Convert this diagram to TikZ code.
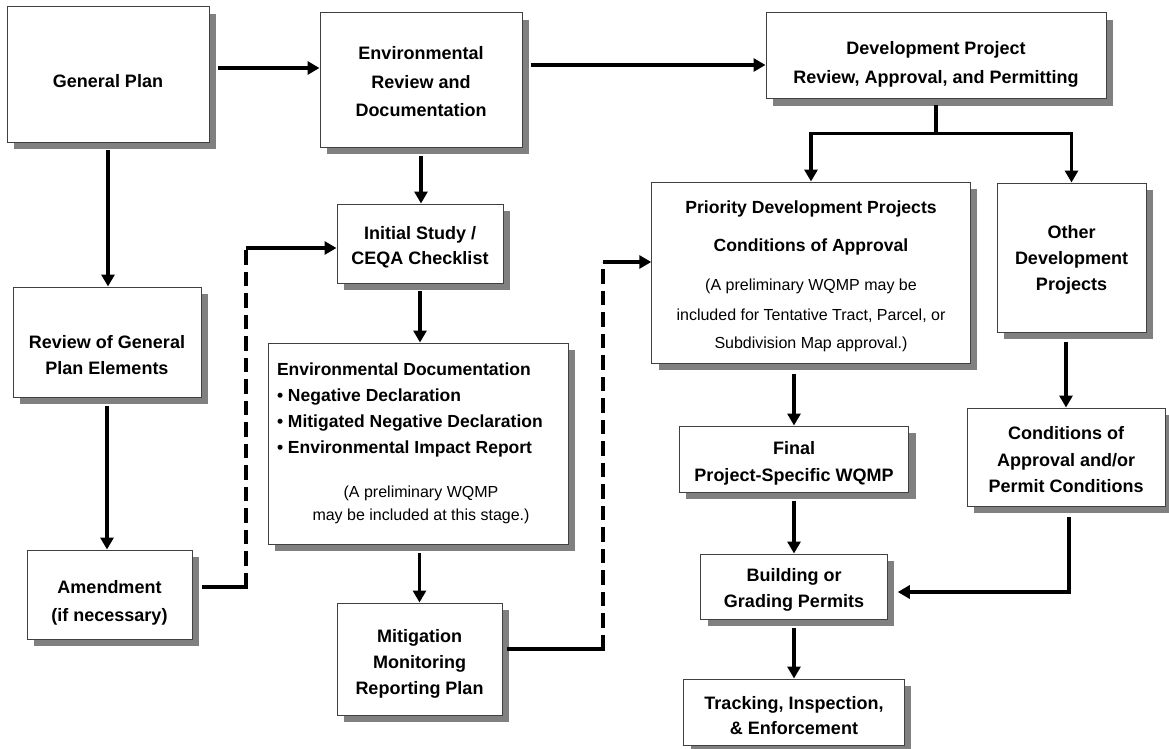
\documentclass[tikz,border=0pt]{standalone}
\usepackage{fontspec}
\setmainfont{Liberation Sans}
\usetikzlibrary{arrows.meta,shadows,calc}
\definecolor{shadowgray}{HTML}{808080}
\definecolor{boxline}{HTML}{404040}
\newcommand{\dn}[1]{\rule{0pt}{#1pt}}
\newcommand{\tl}[1]{\begin{tabular}{@{}c@{}}#1\end{tabular}}
\newcommand{\regtxt}{\mdseries\fontsize{16}{20}\selectfont}
\begin{document}
\begin{tikzpicture}[x=1pt,y=-1pt,
  flowbox/.style={draw=boxline, line width=1pt, fill=white, inner sep=0pt,
    drop shadow={shadow xshift=7pt, shadow yshift=-7pt, fill=shadowgray, opacity=1},
    font=\fontsize{18}{26}\selectfont\bfseries},
  ln/.style={line width=3.5pt, line cap=rect},
  arr/.style={line width=3.5pt, -{Triangle[length=12pt,width=13pt]}},
  dln/.style={line width=3.2pt, dash pattern=on 14.5pt off 7pt},
]
\fill[white] (0,0) rectangle (1169,749);
\useasboundingbox (0,0) rectangle (1169,749);

% nodes
\node[flowbox, minimum width=202pt, minimum height=135pt] (gp) at (108,74.5) {\tl{\dn{34}General Plan}};
\node[flowbox, minimum width=202pt, minimum height=134pt] (er) at (421,80) {\tl{\dn{24}Environmental\\[2.5pt] Review and\\[2.5pt] Documentation}};
\node[flowbox, minimum width=340pt, minimum height=86pt] (dp) at (936,56) {\tl{\dn{33}Development Project\\[3pt] Review, Approval, and Permitting}};
\node[flowbox, minimum width=188pt, minimum height=110pt] (rg) at (107,342) {\tl{\dn{46}Review of General\\ Plan Elements}};
\node[flowbox, minimum width=165pt, minimum height=89pt] (am) at (109.5,594.5) {\tl{\dn{33}Amendment\\[2pt] (if necessary)}};
\node[flowbox, minimum width=166pt, minimum height=79pt] (is) at (420,243.5) {\tl{\dn{24}Initial Study /\\[-1pt] CEQA Checklist}};
\node[flowbox, minimum width=300pt, minimum height=201pt] (ed) at (418,443.5) {\begin{minipage}{282pt}\fontsize{17.5}{26}\selectfont\bfseries\raggedright
Environmental Documentation\\
• Negative Declaration\\
• Mitigated Negative Declaration\\
• Environmental Impact Report\par
\vspace{20.4pt}
{\centering\advance\leftskip 6pt\mdseries\fontsize{16}{23}\selectfont (A preliminary WQMP\\ may be included at this stage.)\par}
\end{minipage}};
\node[flowbox, minimum width=165pt, minimum height=112pt] (mm) at (419.5,659) {\tl{\dn{26}Mitigation\\ Monitoring\\ Reporting Plan}};
\node[flowbox, minimum width=318.5pt, minimum height=181pt, font=\fontsize{17.6}{28}\selectfont\bfseries] (pd) at (811,272.5) {\begin{tabular}{@{}c@{}}
\dn{25.6}Priority Development Projects\\[10.3pt]
Conditions of Approval\\[11.4pt]
\regtxt (A preliminary WQMP may be\\[2pt]
\regtxt included for Tentative Tract, Parcel, or\\
\regtxt Subdivision Map approval.)
\end{tabular}};
\node[flowbox, minimum width=149pt, minimum height=149pt] (od) at (1071.5,257.5) {\tl{\dn{21}Other\\ Development\\ Projects}};
\node[flowbox, minimum width=229.5pt, minimum height=66pt] (fw) at (794,459) {\tl{\dn{25}Final\\[1pt] Project-Specific WQMP}};
\node[flowbox, minimum width=186.5pt, minimum height=65pt] (bg) at (794,586.5) {\tl{\dn{23}Building or\\ Grading Permits}};
\node[flowbox, minimum width=220.5pt, minimum height=66pt] (tr) at (794,712) {\tl{\dn{27}Tracking, Inspection,\\[-1pt] \& Enforcement}};
\node[flowbox, minimum width=198pt, minimum height=98pt] (ca) at (1066,457) {\tl{\dn{26}Conditions of\\[1pt] Approval and/or\\ Permit Conditions}};

% top row
\draw[arr] ($(gp.east)+(8,-6.5)$) -- ($(er.west)+(0,-12)$);
\draw[arr] ($(er.east)+(8,-15)$) -- ($(dp.west)+(0,9)$);
% branch
\coordinate (br) at ($(dp.south)+(0,34)$);
\draw[ln] ($(dp.south)+(0,7)$) -- (br);
\draw[arr] (br) -| (pd.north);
\draw[arr] (br) -| (od.north);
% left column
\draw[arr] ($(gp.south)+(0,7)$) -- (gp.south |- rg.north);
\draw[arr] ($(rg.south)+(0,8)$) -- (rg.south |- am.north);
% middle column
\draw[arr] ($(er.south)+(0,8)$) -- (er.south |- is.north);
\draw[arr] ($(is.south)+(0,7)$) -- (is.south |- ed.north);
\coordinate (t0) at (mm.north |- ed.south);
\draw[arr] ($(t0)+(0,8)$) -- (mm.north);
% dashed links
\coordinate (k1) at (246,587);
\coordinate (k2) at (246,248);
\draw[ln] ($(am.east)+(11,-7.5)$) -- (k1);
\draw[dln] (k1) -- (k2);
\draw[arr] (k2) -- ($(is.west)+(0,4.5)$);
\coordinate (k3) at (603,649);
\coordinate (k4) at (603,262);
\draw[ln] ($(mm.east)+(6,-10)$) -- (k3);
\draw[dln] (k3) -- (k4);
\draw[arr] (k4) -- ($(pd.west)+(0,-10.5)$);
% right part
\coordinate (t1) at (fw.north |- pd.south);
\draw[arr] ($(t1)+(0,10)$) -- (fw.north);
\draw[arr] ($(fw.south)+(0,8)$) -- (fw.south |- bg.north);
\draw[arr] ($(bg.south)+(0,8)$) -- (bg.south |- tr.north);
\coordinate (t2) at (ca.north |- od.south);
\draw[arr] ($(t2)+(0,9)$) -- (ca.north);
\draw[arr] ($(ca.south)+(3,10)$) |- ($(bg.east)+(10,5.5)$);
\end{tikzpicture}
\end{document}
